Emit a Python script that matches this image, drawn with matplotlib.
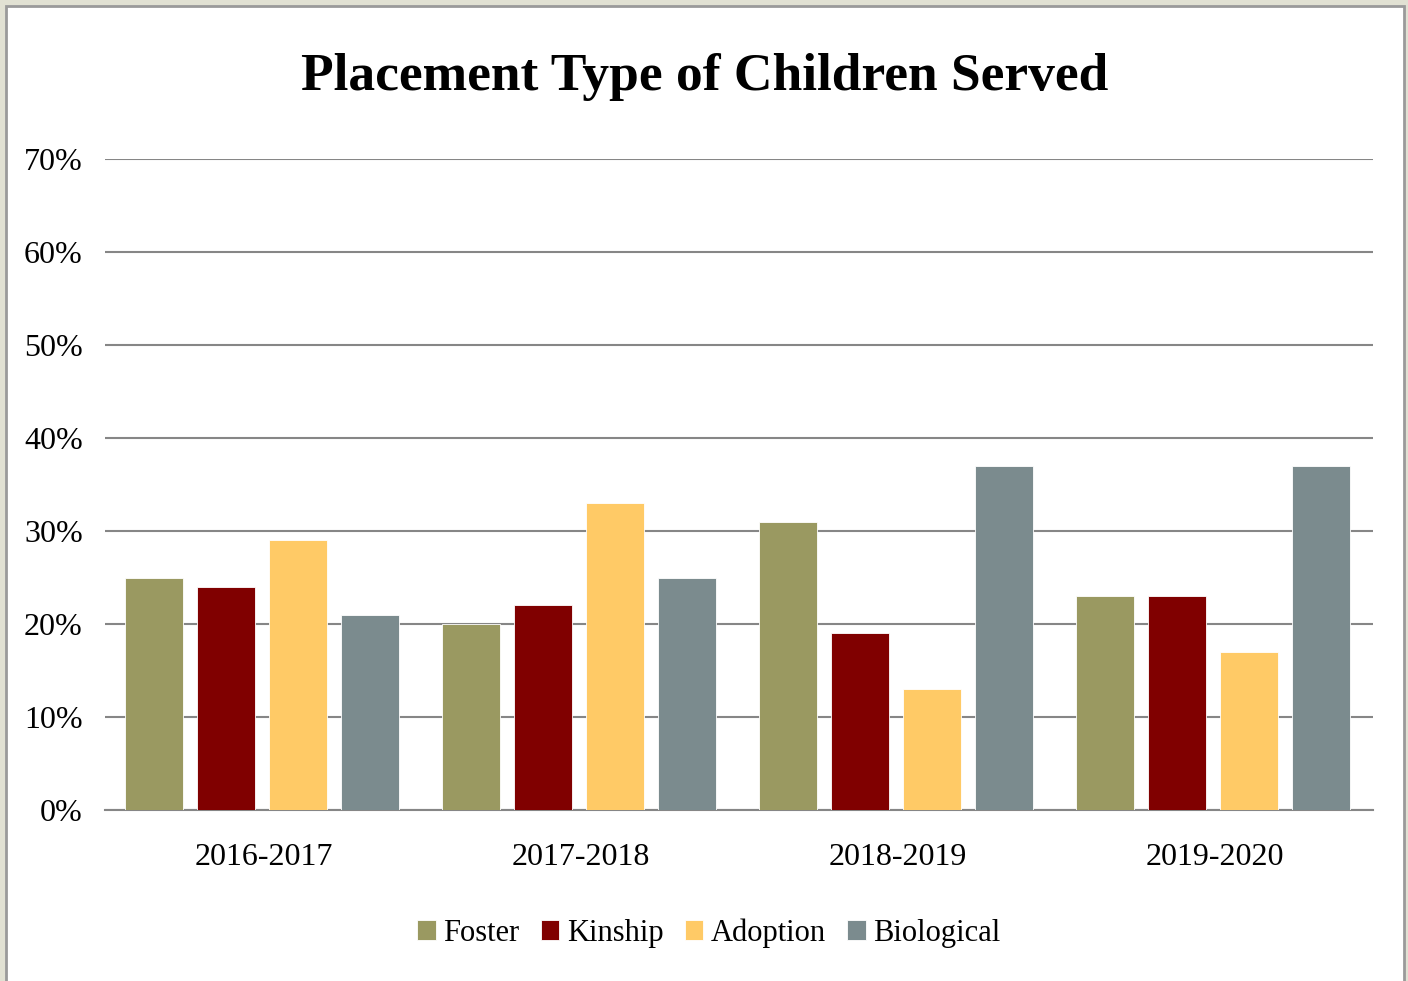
import numpy as np
import matplotlib.pyplot as plt
from matplotlib.patches import Rectangle

years = ['2016-2017', '2017-2018', '2018-2019', '2019-2020']
foster = [25, 20, 31, 23]
kinship = [24, 22, 19, 23]
adoption = [29, 33, 13, 17]
biological = [21, 25, 37, 37]

series = [('Foster', foster, '#9A9961'),
          ('Kinship', kinship, '#800000'),
          ('Adoption', adoption, '#FFCA66'),
          ('Biological', biological, '#7B8B8E')]

plt.rcParams['font.family'] = ['Liberation Serif', 'DejaVu Serif']

fig = plt.figure(figsize=(14.08, 9.81), dpi=100)
fig.patch.set_facecolor('#E1E1D3')

# white panel with grey border, behind everything
panel = Rectangle((6 / 1408, -0.02), 1398 / 1408, 1 - 6 / 981 + 0.02,
                  transform=fig.transFigure, facecolor='white',
                  edgecolor='#9A9A9A', linewidth=2, zorder=-10)
fig.patches.append(panel)

ax = fig.add_axes([105 / 1408, 1 - 810 / 981, 1268 / 1408, (810 - 159) / 981])
ax.set_facecolor('none')

x = np.arange(len(years))
width = 0.183
step = 0.227
for i, (name, vals, col) in enumerate(series):
    ax.bar(x + (i - 1.5) * step - 0.005, vals, width, color=col, label=name,
           edgecolor='white', linewidth=0.6, zorder=3)

ax.set_xlim(-0.5, len(years) - 0.5)
ax.set_ylim(0, 70)
ax.set_yticks(range(0, 71, 10))
ax.set_yticklabels([f'{v}%' for v in range(0, 71, 10)], fontsize=23)
ax.set_xticks(x)
ax.set_xticklabels(years, fontsize=23)
ax.tick_params(axis='both', length=0)
ax.tick_params(axis='y', pad=16)
ax.tick_params(axis='x', pad=24)
ax.grid(axis='y', color='#868686', linewidth=1.5, zorder=0)
for s in ['top', 'right', 'left']:
    ax.spines[s].set_visible(False)
ax.spines['bottom'].set_color('#868686')
ax.spines['bottom'].set_linewidth(1.5)

fig.text(705 / 1408, 1 - 77 / 981, 'Placement Type of Children Served',
         ha='center', va='center', fontsize=38.5, fontweight='bold')

fig.legend(loc='center', bbox_to_anchor=(709 / 1408, 1 - 933 / 981), ncol=4,
           frameon=False, fontsize=22, handlelength=0.6, handleheight=0.6,
           handletextpad=0.25, columnspacing=0.7)

fig.savefig('out.png', dpi=100, facecolor=fig.get_facecolor())
